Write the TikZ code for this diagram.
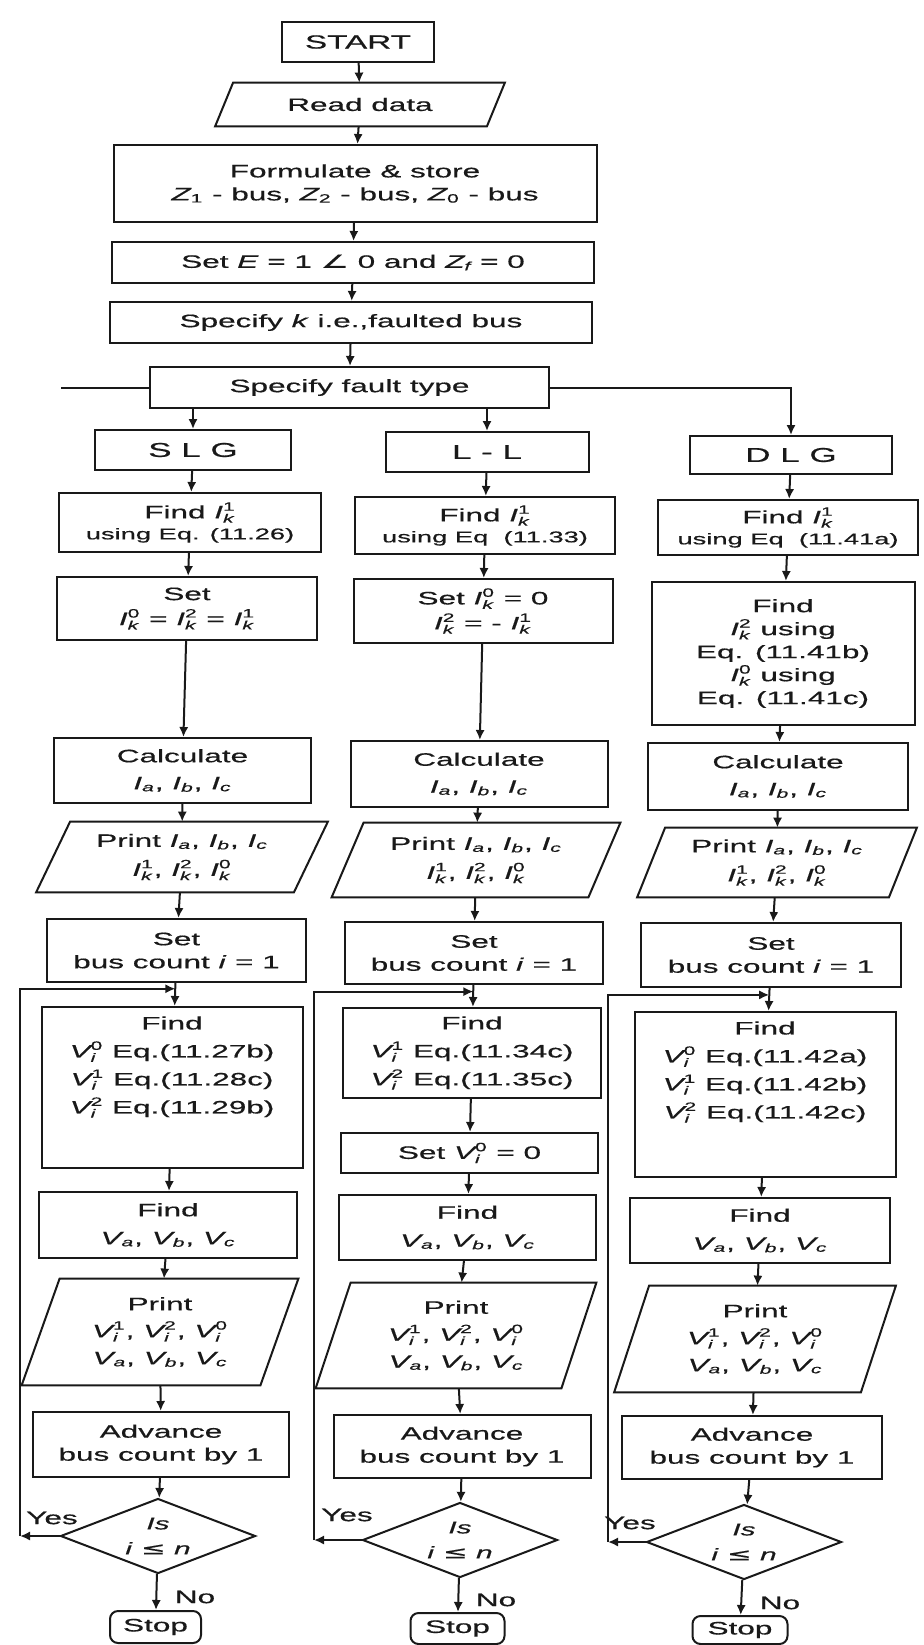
\documentclass[tikz,border=0pt]{standalone}
\usepackage{fontspec}
\setmainfont{Liberation Sans}[FakeStretch=1.75,FakeBold=0.5]
\newfontfamily\symf{DejaVu Sans}[FakeStretch=1.75,FakeBold=0.5]
\usetikzlibrary{arrows.meta,shapes.geometric,calc}
\definecolor{ink}{RGB}{25,25,25}
% font sizes
\newcommand\fs{\fontsize{9}{11.5}\selectfont}
\newcommand\fsm{\fontsize{7.8}{10}\selectfont}
\newcommand\fsub{\fontsize{6}{6}\selectfont}
% symbols with sub- and superscripts
\newcommand\ssp[3]{\ensuremath{\mbox{\itshape #1}^{\mbox{\fsub #3}}_{\mbox{\fsub\itshape #2}}}}
\newcommand\ssb[2]{\ensuremath{\mbox{\itshape #1}_{\mbox{\fsub\itshape #2}}}}
\newcommand\IK[1]{\ssp{I}{k}{#1}}
\newcommand\VI[1]{\ssp{V}{i}{#1}}
\newcommand\IS[1]{\ssb{I}{#1}}
\newcommand\VS[1]{\ssb{V}{#1}}
\newcommand\ZS[1]{\ensuremath{\mbox{\itshape Z}_{\mbox{\fsub #1}}}}
\tikzset{
  edge/.style={draw=ink, line width=1pt},
  arr/.style={edge, -{Latex[length=5pt,width=4.6pt]}},
  box/.style={draw=ink, line width=1pt, rectangle, align=center, inner sep=2pt, font=\fs, text=ink},
  iotext/.style={rectangle, align=center, inner sep=0pt, font=\fs, text=ink},
  decision/.style={diamond, draw=ink, line width=1pt, shape aspect=2.6, inner sep=0pt,
    align=center, font=\fontsize{8.5}{12.5}\selectfont, text=ink,
    minimum width=97.5pt, minimum height=37.5pt},
  term/.style={rounded corners=4pt},
  lbl/.style={font=\fs, text=ink, inner sep=1pt},
  big/.style={font=\fontsize{10}{12}\selectfont},
}
% process box: name, centre x, centre y, width, height (drawing units), text
\newcommand\flowbox[7][]{%
  \pgfmathsetmacro\fcW{#5*0.5}\pgfmathsetmacro\fcH{#6*0.5}%
  \node[box,minimum width=\fcW pt,minimum height=\fcH pt,#1] (#2) at (#3,#4) {#7};}
% input/output box: name, centre x, centre y, width, height, slant, text
\newcommand\iobox[8][]{%
  \pgfmathsetmacro\fcW{#5*0.5}\pgfmathsetmacro\fcH{#6*0.5}\pgfmathsetmacro\fcS{#7*0.25}%
  \node[iotext,minimum width=\fcW pt,minimum height=\fcH pt,#1] (#2) at (#3,#4) {#8};
  \draw[edge] ([xshift=\fcS pt]#2.north west) -- ([xshift=\fcS pt]#2.north east)
    -- ([xshift=-\fcS pt]#2.south east) -- ([xshift=-\fcS pt]#2.south west) -- cycle;}
\begin{document}
\begin{tikzpicture}[x=0.5pt,y=-0.5pt]
\useasboundingbox (0,0) rectangle (923,1645);
\fill[white] (0,0) rectangle (923,1645);

% common part
\flowbox[font=\fontsize{9.5}{11}\selectfont]{start}{358}{42}{152}{40}{START}
\iobox{read}{360}{104.5}{271}{43}{18}{Read data}
\flowbox{form}{355}{183.5}{483}{77}{Formulate \& store\\ \ZS{1} - bus, \ZS{2} - bus, \ZS{0} - bus}
\flowbox{setE}{353}{262.5}{482}{41}{Set \textit{E} = 1 {\symf ∠} 0 and \ensuremath{\mbox{\itshape Z}_{\mbox{\fsub\itshape f}}} = 0}
\flowbox{spk}{351}{322.5}{482}{41}{Specify \textit{k} i.e.,faulted bus}
\flowbox{ft}{349.5}{387.5}{399}{41}{Specify fault type}

% SLG branch
\flowbox[big]{slg}{193}{450}{196}{40}{S L G}
\flowbox{fi1}{190}{522.5}{262}{59}{Find \IK{1}\\[-1pt]{\fsm using Eq. (11.26)}}
\flowbox{st1}{187}{608.5}{260}{63}{Set\\[1pt] \IK{0} = \IK{2} = \IK{1}}
\flowbox{ca1}{182.5}{770.5}{257}{65}{Calculate\\[2pt] \IS{a}, \IS{b}, \IS{c}}
\iobox{pi1}{182}{857}{257}{70}{34}{Print \IS{a}, \IS{b}, \IS{c}\\[3pt] \IK{1}, \IK{2}, \IK{0}}
\flowbox{sb1}{176.5}{950.5}{259}{63}{Set\\ bus count \textit{i} = 1}
\flowbox{fv1}{172}{1087.5}{261}{161}{}
\node[iotext,anchor=north] (fv1t) at ([yshift=-5pt]fv1.north) {Find\\[2.5pt] \VI{0} Eq.(11.27b)\\[2.5pt] \VI{1} Eq.(11.28c)\\[2.5pt] \VI{2} Eq.(11.29b)};
\flowbox{fa1}{168}{1225}{258}{66}{Find\\[2.5pt] \VS{a}, \VS{b}, \VS{c}}
\iobox{pv1}{160}{1332}{238}{106}{38}{Print\\[2pt] \VI{1}, \VI{2}, \VI{0}\\[2pt] \VS{a}, \VS{b}, \VS{c}}
\flowbox{ad1}{161}{1444.5}{256}{65}{Advance\\ bus count by 1}
\node[decision] (d1) at (158,1536) {\textit{Is}\\ \textit{i} {\symf ≤} \textit{n}};
\flowbox[term]{sp1}{155.5}{1627}{91}{32}{Stop}

% L-L branch
\flowbox[big]{ll}{487}{452}{203}{40}{L - L}
\flowbox{fi2}{485}{525.5}{260}{57}{Find \IK{1}\\[-1pt]{\fsm using Eq\ \ (11.33)}}
\flowbox{st2}{483}{611}{259}{64}{Set \IK{0} = 0\\[1pt] \IK{2} = - \IK{1}}
\flowbox{ca2}{479}{774}{257}{66}{Calculate\\[2pt] \IS{a}, \IS{b}, \IS{c}}
\iobox{pi2}{476}{860}{256}{74}{32}{Print \IS{a}, \IS{b}, \IS{c}\\[3pt] \IK{1}, \IK{2}, \IK{0}}
\flowbox{sb2}{474}{953}{258}{62}{Set\\ bus count \textit{i} = 1}
\flowbox{fv2}{472}{1053}{258}{90}{Find\\[2.5pt] \VI{1} Eq.(11.34c)\\[2.5pt] \VI{2} Eq.(11.35c)}
\flowbox{sv2}{469.5}{1153}{257}{40}{Set \VI{0} = 0}
\flowbox{fa2}{467.5}{1227.5}{257}{65}{Find\\[2.5pt] \VS{a}, \VS{b}, \VS{c}}
\iobox{pv2}{456}{1335.5}{245}{105}{35}{Print\\[2pt] \VI{1}, \VI{2}, \VI{0}\\[2pt] \VS{a}, \VS{b}, \VS{c}}
\flowbox{ad2}{462}{1446.5}{257}{63}{Advance\\ bus count by 1}
\node[decision] (d2) at (460,1540) {\textit{Is}\\ \textit{i} {\symf ≤} \textit{n}};
\flowbox[term]{sp2}{457.5}{1628.5}{94}{31}{Stop}

% DLG branch
\flowbox[big]{dlg}{791}{455}{202}{38}{D L G}
\flowbox{fi3}{788}{527.5}{260}{55}{Find \IK{1}\\[-1pt]{\fsm using Eq\ \ (11.41a)}}
\flowbox{fo3}{783}{653.5}{263}{143}{Find\\ \IK{2} using\\ Eq. (11.41b)\\ \IK{0} using\\ Eq. (11.41c)}
\flowbox{ca3}{778}{776.5}{260}{67}{Calculate\\[2pt] \IS{a}, \IS{b}, \IS{c}}
\iobox{pi3}{777}{862.5}{251}{69}{28}{Print \IS{a}, \IS{b}, \IS{c}\\[3pt] \IK{1}, \IK{2}, \IK{0}}
\flowbox{sb3}{771}{955}{260}{64}{Set\\ bus count \textit{i} = 1}
\flowbox{fv3}{765}{1094.5}{261}{165}{}
\node[iotext,anchor=north] (fv3t) at ([yshift=-5pt]fv3.north) {Find\\[2.5pt] \VI{0} Eq.(11.42a)\\[2.5pt] \VI{1} Eq.(11.42b)\\[2.5pt] \VI{2} Eq.(11.42c)};
\flowbox{fa3}{760}{1230.5}{260}{65}{Find\\[2.5pt] \VS{a}, \VS{b}, \VS{c}}
\iobox{pv3}{755}{1339}{246}{106}{35}{Print\\[2pt] \VI{1}, \VI{2}, \VI{0}\\[2pt] \VS{a}, \VS{b}, \VS{c}}
\flowbox{ad3}{752}{1447.5}{260}{63}{Advance\\ bus count by 1}
\node[decision] (d3) at (744,1542) {\textit{Is}\\ \textit{i} {\symf ≤} \textit{n}};
\flowbox[term]{sp3}{740}{1630}{95}{28}{Stop}

% main flow
\draw[arr] (start) -- (read);
\draw[arr] (read) -- (form);
\draw[arr] (form) -- (setE);
\draw[arr] (setE) -- (spk);
\draw[arr] (spk) -- (ft);
\coordinate (stub) at (61,387.5);
\draw[edge] (ft.west) -- (stub);
\draw[arr] (slg.north |- ft.south) -- (slg.north);
\draw[arr] (ll.north |- ft.south) -- (ll.north);
\draw[arr] (ft.east) -| (dlg.north);

% branch flows
\foreach \a/\b in {slg/fi1,fi1/st1,st1/ca1,ca1/pi1,pi1/sb1,sb1/fv1,fv1/fa1,fa1/pv1,pv1/ad1,ad1/d1,d1/sp1,
                   ll/fi2,fi2/st2,st2/ca2,ca2/pi2,pi2/sb2,sb2/fv2,fv2/sv2,sv2/fa2,fa2/pv2,pv2/ad2,ad2/d2,d2/sp2,
                   dlg/fi3,fi3/fo3,fo3/ca3,ca3/pi3,pi3/sb3,sb3/fv3,fv3/fa3,fa3/pv3,pv3/ad3,ad3/d3,d3/sp3}
  \draw[arr] (\a) -- (\b);

% loops back for the next bus
\coordinate (j1) at ($(sb1.south)!0.25!(fv1.north)$);
\coordinate (j2) at ($(sb2.south)!0.3!(fv2.north)$);
\coordinate (j3) at ($(sb3.south)!0.3!(fv3.north)$);
\coordinate (lp1) at (20,0);
\coordinate (lp2) at (314,0);
\coordinate (lp3) at (608,0);
\draw[arr] (d1.west) -- (d1.west -| lp1);
\draw[arr] (d1.west -| lp1) |- (j1);
\draw[arr] (d2.west) -- (d2.west -| lp2);
\draw[arr] (d2.west -| lp2) |- (j2);
\draw[arr] (d3.west) -- (d3.west -| lp3);
\draw[arr] (d3.west -| lp3) |- (j3);

% branch labels
\node[lbl] (ys1) at (52,1518) {Yes};
\node[lbl] (ys2) at (347,1515) {Yes};
\node[lbl] (ys3) at (630,1523) {Yes};
\node[lbl] (no1) at (195,1597) {No};
\node[lbl] (no2) at (496,1600) {No};
\node[lbl] (no3) at (780,1603) {No};
\end{tikzpicture}
\end{document}
